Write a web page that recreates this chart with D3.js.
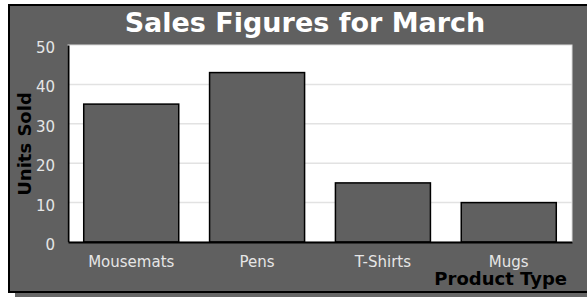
<!DOCTYPE html>
<html>
<head>
<meta charset="utf-8">
<script src="https://cdn.jsdelivr.net/npm/d3@7"></script>
<style>
  html, body { margin: 0; padding: 0; background: #ffffff; }
  svg { display: block; }
</style>
</head>
<body>
<script>
const categories = ["Mousemats", "Pens", "T-Shirts", "Mugs"];
const unitsSold = [35, 43, 15, 10];
const yTicks = [0, 10, 20, 30, 40, 50];
const titleText = "Sales Figures for March";
const xLabel = "Product Type";
const yLabel = "Units Sold";

const W = 587, H = 297;
const plot = { left: 68, right: 572, top: 45, bottom: 242 };

const svg = d3.select("body").append("svg").attr("width", W).attr("height", H);

// shadow + panel
svg.append("rect").attr("x", 15).attr("y", 11).attr("width", 600).attr("height", 300).attr("fill", "#666666");
svg.append("rect").attr("x", 9).attr("y", 5).attr("width", 600).attr("height", 287)
  .attr("fill", "#606060").attr("stroke", "#000").attr("stroke-width", 2);

const x = d3.scaleBand().domain(categories).range([plot.left, plot.right]).paddingInner(0.245).paddingOuter(0.125);
const y = d3.scaleLinear().domain([0, 50]).range([plot.bottom, plot.top]);

// plot background
svg.append("rect").attr("x", plot.left).attr("y", plot.top)
  .attr("width", plot.right - plot.left).attr("height", plot.bottom - plot.top)
  .attr("fill", "#ffffff").attr("stroke", "#dcdcdc").attr("stroke-width", 1);

// gridlines
svg.append("g").selectAll("line").data(yTicks.filter(d => d > 0 && d < 50)).join("line")
  .attr("x1", plot.left).attr("x2", plot.right)
  .attr("y1", d => y(d)).attr("y2", d => y(d))
  .attr("stroke", "#e2e2e2").attr("stroke-width", 1.5);

// bars
svg.append("g").selectAll("rect").data(categories).join("rect")
  .attr("x", d => x(d)).attr("width", x.bandwidth())
  .attr("y", (d, i) => y(unitsSold[i]))
  .attr("height", (d, i) => y(0) - y(unitsSold[i]))
  .attr("fill", "#606060").attr("stroke", "#000").attr("stroke-width", 1.5);

// axes
const yAxis = svg.append("g").attr("transform", `translate(${plot.left},0)`)
  .call(d3.axisLeft(y).tickValues(yTicks).tickSize(0).tickPadding(13));
const xAxis = svg.append("g").attr("transform", `translate(0,${plot.bottom})`)
  .call(d3.axisBottom(x).tickSize(0).tickPadding(14));
[yAxis, xAxis].forEach(g => {
  g.select(".domain").attr("stroke", "#000").attr("stroke-width", 2);
  g.selectAll("text").attr("fill", "#e6e6e6").attr("font-family", "DejaVu Sans").attr("font-size", 15);
});
yAxis.selectAll("text").attr("dy", "0.5em");
xAxis.selectAll("text").attr("dy", "0.71em");

// title
svg.append("text").attr("x", 305).attr("y", 31.5).attr("text-anchor", "middle")
  .attr("font-family", "DejaVu Sans").attr("font-weight", "bold").attr("font-size", 27)
  .attr("fill", "#ffffff").text(titleText);

// axis labels
svg.append("text").attr("transform", `translate(31,144) rotate(-90)`).attr("text-anchor", "middle")
  .attr("font-family", "DejaVu Sans").attr("font-weight", "bold").attr("font-size", 18)
  .attr("fill", "#000").text(yLabel);
svg.append("text").attr("x", 567).attr("y", 285).attr("text-anchor", "end")
  .attr("font-family", "DejaVu Sans").attr("font-weight", "bold").attr("font-size", 18)
  .attr("fill", "#000").text(xLabel);
</script>
</body>
</html>
